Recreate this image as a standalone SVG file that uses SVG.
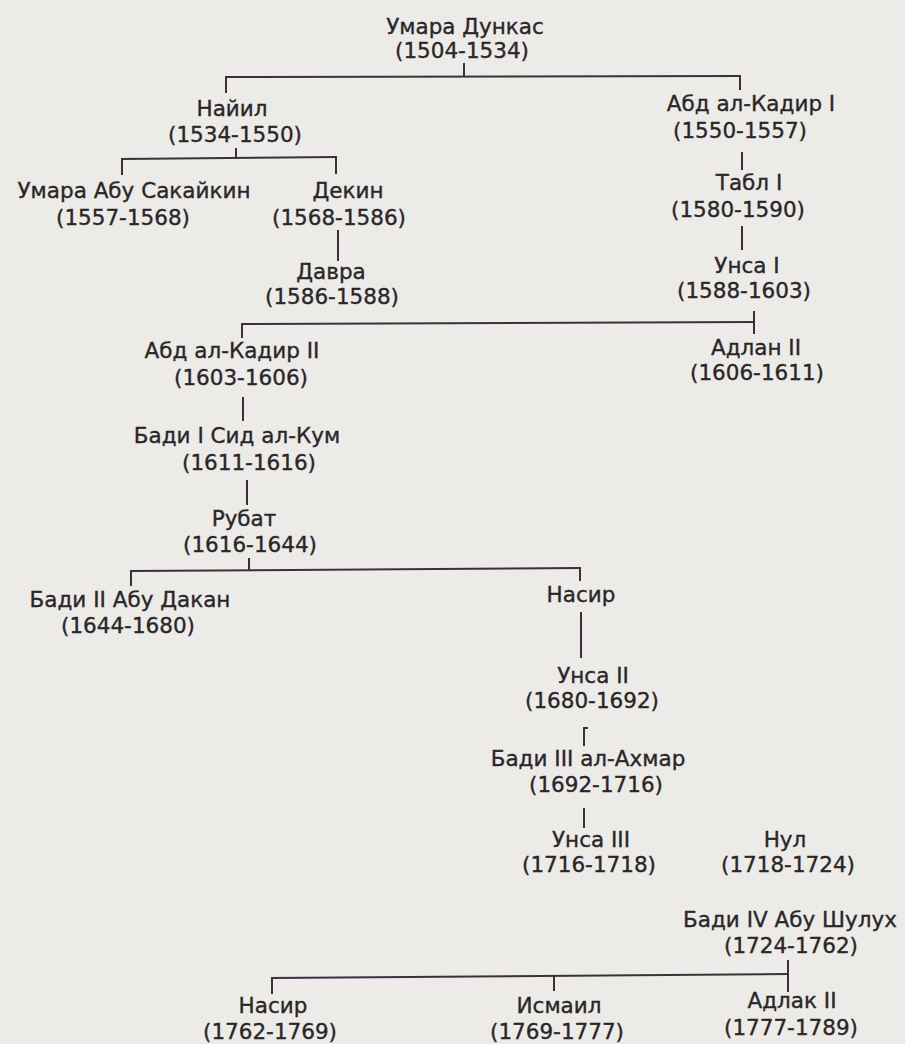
<svg xmlns="http://www.w3.org/2000/svg" width="905" height="1044" viewBox="0 0 905 1044">
<style>
text{font-family:"DejaVu Sans","Liberation Sans",sans-serif;font-size:21.5px;fill:#2a2628;stroke:#2a2628;stroke-width:0.35;text-anchor:middle}
.c line,.c polyline{stroke:#3b2f3c;stroke-width:2;fill:none}
</style>
<rect x="0" y="0" width="905" height="1044" fill="#ecebe8"/>
<g class="c" id="connectors">
<line x1="464" y1="63" x2="464" y2="77"/>
<line x1="225" y1="77" x2="741" y2="76"/>
<line x1="226" y1="77" x2="226" y2="93"/>
<line x1="740" y1="76" x2="740" y2="90"/>
<line x1="236" y1="148" x2="236" y2="158"/>
<line x1="121" y1="159" x2="337" y2="157"/>
<line x1="122" y1="159" x2="122" y2="175"/>
<line x1="336" y1="157" x2="336" y2="174"/>
<line x1="338" y1="230" x2="338" y2="261"/>
<line x1="742" y1="152" x2="742" y2="170"/>
<line x1="742" y1="226" x2="742" y2="250"/>
<line x1="241" y1="324" x2="754" y2="322"/>
<line x1="754" y1="311" x2="754" y2="334"/>
<line x1="242" y1="324" x2="242" y2="338"/>
<line x1="243" y1="397" x2="243" y2="421"/>
<line x1="247" y1="480" x2="247" y2="505"/>
<line x1="249" y1="558" x2="249" y2="570"/>
<line x1="130" y1="571" x2="581" y2="568"/>
<line x1="131" y1="571" x2="131" y2="586"/>
<line x1="580" y1="568" x2="580" y2="581"/>
<line x1="581" y1="612" x2="581" y2="658"/>
<polyline points="584,746 584,728 588,728"/>
<line x1="584" y1="808" x2="584" y2="828"/>
<line x1="788" y1="960" x2="788" y2="992"/>
<line x1="271" y1="978" x2="789" y2="974"/>
<line x1="272" y1="978" x2="272" y2="994"/>
<line x1="554" y1="976" x2="554" y2="991"/>
</g>
<g id="n1"><text x="465" y="34">Умара Дункас</text><text x="462" y="58">(1504-1534)</text></g>
<g id="n2"><text x="232" y="116">Найил</text><text x="235" y="142">(1534-1550)</text></g>
<g id="n3"><text x="751" y="111">Абд ал-Кадир I</text><text x="740" y="138">(1550-1557)</text></g>
<g id="n4"><text x="134" y="198">Умара Абу Сакайкин</text><text x="123" y="225">(1557-1568)</text></g>
<g id="n5"><text x="348" y="198">Декин</text><text x="339" y="225">(1568-1586)</text></g>
<g id="n6"><text x="331" y="279">Давра</text><text x="332" y="304">(1586-1588)</text></g>
<g id="n7"><text x="749" y="190">Табл I</text><text x="738" y="217">(1580-1590)</text></g>
<g id="n8"><text x="747" y="273">Унса I</text><text x="744" y="298">(1588-1603)</text></g>
<g id="n9"><text x="232" y="358">Абд ал-Кадир II</text><text x="241" y="385">(1603-1606)</text></g>
<g id="n10"><text x="756" y="355">Адлан II</text><text x="757" y="380">(1606-1611)</text></g>
<g id="n11"><text x="237" y="443">Бади I Сид ал-Кум</text><text x="249" y="470">(1611-1616)</text></g>
<g id="n12"><text x="244" y="526">Рубат</text><text x="250" y="552">(1616-1644)</text></g>
<g id="n13"><text x="130" y="607">Бади II Абу Дакан</text><text x="128" y="633">(1644-1680)</text></g>
<g id="n14"><text x="581" y="602">Насир</text></g>
<g id="n15"><text x="593" y="683">Унса II</text><text x="592" y="708">(1680-1692)</text></g>
<g id="n16"><text x="588" y="766">Бади III ал-Ахмар</text><text x="596" y="792">(1692-1716)</text></g>
<g id="n17"><text x="591" y="847">Унса III</text><text x="589" y="872">(1716-1718)</text></g>
<g id="n18"><text x="785" y="847">Нул</text><text x="788" y="872">(1718-1724)</text></g>
<g id="n19"><text x="790" y="927">Бади IV Абу Шулух</text><text x="791" y="953">(1724-1762)</text></g>
<g id="n20"><text x="273" y="1013">Насир</text><text x="270" y="1039">(1762-1769)</text></g>
<g id="n21"><text x="559" y="1013">Исмаил</text><text x="557" y="1039">(1769-1777)</text></g>
<g id="n22"><text x="792" y="1008">Адлак II</text><text x="791" y="1035">(1777-1789)</text></g>
</svg>
